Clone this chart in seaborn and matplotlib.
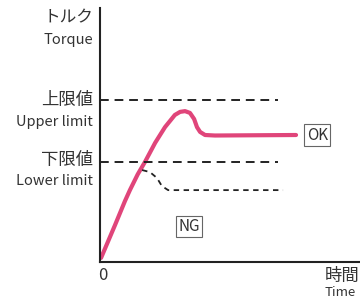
import numpy as np
import pandas as pd
import matplotlib
matplotlib.use("Agg")
import matplotlib.pyplot as plt
import seaborn as sns

# données (temps, couple)
ok_time = [0.04, 0.58, 0.96, 1.15, 1.45, 1.73, 2.12, 2.5, 2.88, 3.08, 3.27, 3.46,
           3.62, 3.73, 3.85, 4.04, 4.42, 7.54]
ok_torque = [0.16, 1.46, 2.4, 2.83, 3.45, 3.94, 4.69, 5.31, 5.79, 5.91, 5.94, 5.87,
             5.63, 5.31, 5.12, 5.0, 4.98, 5.0]
ng_time = [1.62, 1.92, 2.19, 2.38, 2.62, 7.04]
ng_torque = [3.62, 3.54, 3.31, 2.99, 2.83, 2.83]
upper_limit = 6.38
lower_limit = 3.94
limit_end = 6.85

sns.set_style("white")
plt.rcParams['font.family'] = ['Noto Sans CJK JP', 'DejaVu Sans']

df_ok = pd.DataFrame({"time": ok_time, "torque": ok_torque})
df_ng = pd.DataFrame({"time": ng_time, "torque": ng_torque})

fig = plt.figure(figsize=(3.6, 2.98), dpi=100)
ax = fig.add_axes([100/360, 36/298, 260/360, 254/298])

sns.lineplot(x="time", y="torque", data=df_ok, estimator=None, sort=False,
             color="#e0457a", linewidth=3, ax=ax)
ax.lines[-1].set_solid_joinstyle("round")
sns.lineplot(x="time", y="torque", data=df_ng, estimator=None, sort=False,
             color="#222222", linewidth=1.3, ax=ax)
ax.lines[-1].set_dashes([3, 2.5])

for lim in [upper_limit, lower_limit]:
    ax.plot([0, limit_end], [lim, lim], color="#222222", linewidth=1.4, dashes=[4.5, 3])

ax.set_xlim(0, 10)
ax.set_ylim(0, 10)
ax.set_xticks([])
ax.set_yticks([])
ax.set_xlabel("")
ax.set_ylabel("")
for s in ["top", "right"]:
    ax.spines[s].set_visible(False)
for s in ["left", "bottom"]:
    ax.spines[s].set_color("#222222")
    ax.spines[s].set_linewidth(1.5)

# boîtes OK / NG
ax.text(7.95, 5.0, "OK", fontsize=11, color="#333333", va="center", ha="left",
        bbox=dict(boxstyle="square,pad=0.15", fc="white", ec="#666666", lw=0.8))
ax.text(3.02, 1.4, "NG", fontsize=11, color="#333333", va="center", ha="left",
        bbox=dict(boxstyle="square,pad=0.15", fc="white", ec="#666666", lw=0.8))

# étiquettes
def lab(x, y, t, size, ha="right"):
    fig.text(x/360, 1 - y/298, t, fontsize=size, color="#333333", ha=ha, va="center")

lab(93, 18, "トルク", 12)
lab(93, 40, "Torque", 10.5)
lab(93, 100, "上限値", 12.5)
lab(93, 122, "Upper limit", 10.5)
lab(93, 160, "下限値", 12.5)
lab(93, 181, "Lower limit", 10.5)
lab(103, 276, "0", 12, ha="center")
lab(325, 276, "時間", 12.5, ha="left")
lab(325, 292, "Time", 9.5, ha="left")

plt.savefig("out.png", dpi=100)
plt.close()
